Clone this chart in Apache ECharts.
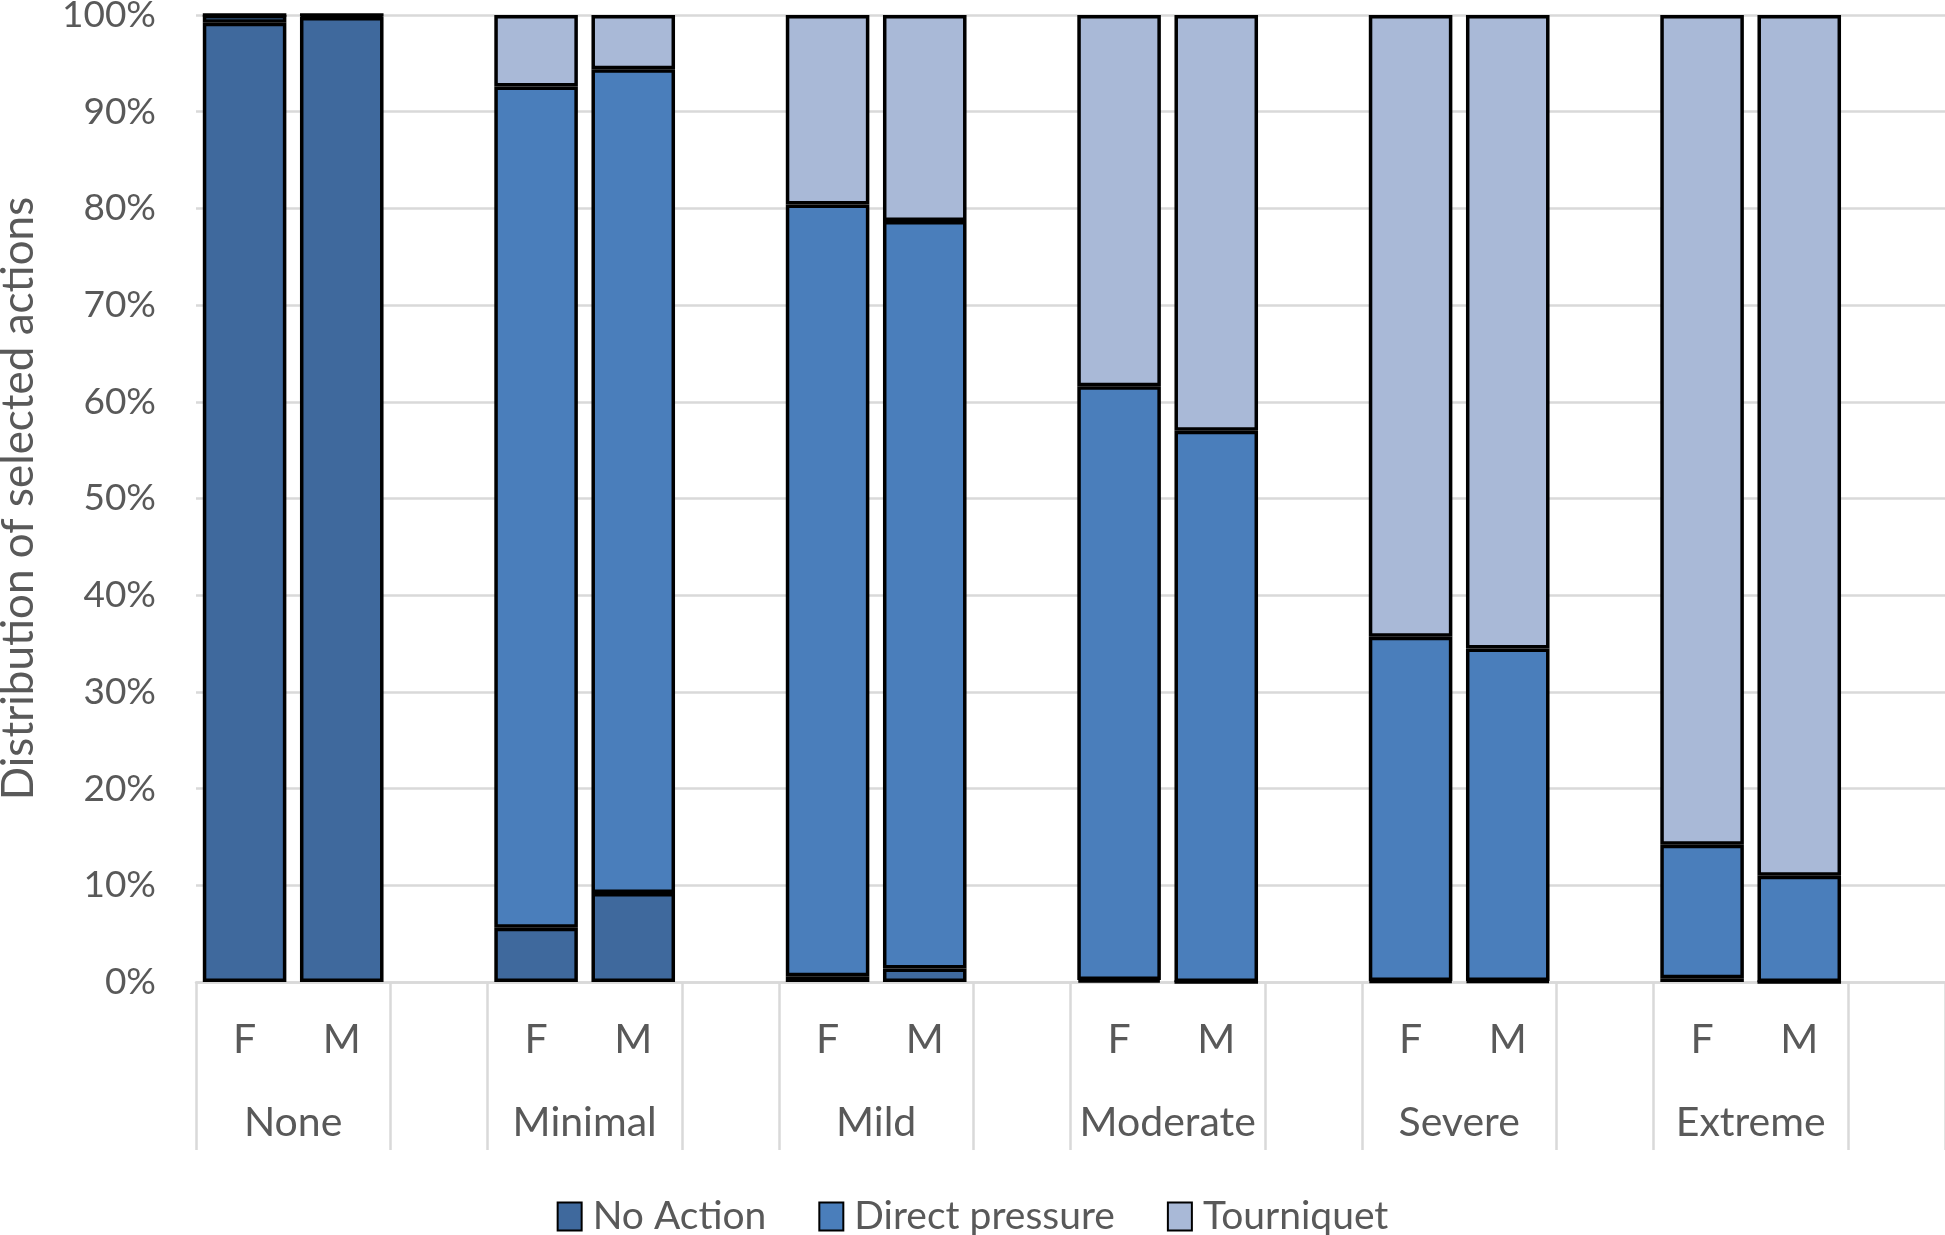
<!DOCTYPE html>
<html>
<head>
<meta charset="utf-8">
<script src="https://cdn.jsdelivr.net/npm/echarts@6/dist/echarts.min.js"></script>
<style>
  html, body { margin: 0; padding: 0; background: #ffffff; }
  #chart { width: 1945px; height: 1235px; }
</style>
</head>
<body>
<div id="chart"></div>
<script>
// ---- Data ----
const groups = ['None', 'Minimal', 'Mild', 'Moderate', 'Severe', 'Extreme'];
const sexes = ['F', 'M'];
// values per bar in order: None F, None M, Minimal F, Minimal M, ... Extreme F, Extreme M (percent)
const noAction       = [99.2, 99.8, 5.6, 9.2, 0.6, 1.4, 0.2, 0.0, 0.1, 0.1, 0.4, 0.0];
const directPressure = [0.8, 0.2, 87.0, 85.2, 79.8, 77.3, 61.4, 57.0, 35.6, 34.4, 13.8, 11.0];
const tourniquet     = [0.0, 0.0, 7.4, 5.6, 19.6, 21.3, 38.4, 43.0, 64.3, 65.5, 85.8, 89.0];
const yTicks = [0, 10, 20, 30, 40, 50, 60, 70, 80, 90, 100];

// ---- Build slots: F, M, blank for each group ----
const slotLabels = [];
function slotData(arr) {
  const out = [];
  groups.forEach((g, gi) => {
    out.push(arr[gi * 2]);
    out.push(arr[gi * 2 + 1]);
    out.push('-');
  });
  return out;
}
groups.forEach(() => { slotLabels.push(sexes[0], sexes[1], ''); });

const textColor = '#595959';
const gridColor = '#D9D9D9';
const fontFamily = 'Lato, "Noto Sans", sans-serif';

const chart = echarts.init(document.getElementById('chart'), null, { renderer: 'canvas' });

const barCommon = {
  type: 'bar',
  stack: 'total',
  barCategoryGap: '14%',
  itemStyle: { borderColor: '#000000', borderWidth: 3.5 },
  emphasis: { disabled: true },
  xAxisIndex: 0,
  yAxisIndex: 0
};

chart.setOption({
  animation: false,
  backgroundColor: '#ffffff',
  textStyle: { fontFamily: fontFamily },
  grid: { left: 196, right: 0, top: 15, bottom: 253, containLabel: false, outerBoundsMode: 'none' },
  legend: {
    data: ['No Action', 'Direct pressure', 'Tourniquet'],
    left: 'center',
    top: 1192,
    itemWidth: 24,
    itemHeight: 28,
    itemGap: 52,
    icon: 'rect',
    textStyle: { fontSize: 39, color: textColor, fontFamily: fontFamily, padding: [0, 0, 0, 6] }
  },
  xAxis: [
    {
      type: 'category',
      data: slotLabels,
      position: 'bottom',
      axisLine: { show: true, lineStyle: { color: gridColor, width: 2.5 } },
      axisTick: {
        show: true,
        length: 168,
        interval: function (index) { return index % 3 !== 1; },
        lineStyle: { color: gridColor, width: 2.5 }
      },
      axisLabel: { interval: 0, fontSize: 41, color: textColor, margin: 37, fontFamily: fontFamily },
      splitLine: { show: false }
    },
    {
      type: 'value',
      min: 0,
      max: 18,
      interval: 1,
      position: 'bottom',
      offset: 0,
      axisLine: { show: false },
      axisTick: { show: false },
      splitLine: { show: false },
      axisLabel: {
        show: true,
        margin: 120,
        fontSize: 41,
        color: textColor,
        fontFamily: fontFamily,
        showMinLabel: true,
        showMaxLabel: true,
        formatter: function (v) {
          const n = Math.round(v);
          if (n % 3 === 1) return groups[(n - 1) / 3];
          return '';
        }
      }
    }
  ],
  yAxis: {
    type: 'value',
    min: yTicks[0],
    max: yTicks[yTicks.length - 1],
    interval: 10,
    name: 'Distribution of selected actions',
    nameLocation: 'middle',
    nameRotate: 90,
    nameGap: 155,
    nameTextStyle: { fontSize: 44, color: textColor, fontFamily: fontFamily },
    axisLine: { show: false },
    axisTick: { show: false },
    axisLabel: { fontSize: 37, color: textColor, margin: 40, formatter: '{value}%', fontFamily: fontFamily },
    splitLine: { show: true, lineStyle: { color: gridColor, width: 2.5 } }
  },
  series: [
    Object.assign({}, barCommon, { name: 'No Action', data: slotData(noAction), itemStyle: Object.assign({}, barCommon.itemStyle, { color: '#3F699D' }) }),
    Object.assign({}, barCommon, { name: 'Direct pressure', data: slotData(directPressure), itemStyle: Object.assign({}, barCommon.itemStyle, { color: '#4A7EBB' }) }),
    Object.assign({}, barCommon, { name: 'Tourniquet', data: slotData(tourniquet), itemStyle: Object.assign({}, barCommon.itemStyle, { color: '#A9B9D7' }) })
  ]
});
</script>
</body>
</html>
